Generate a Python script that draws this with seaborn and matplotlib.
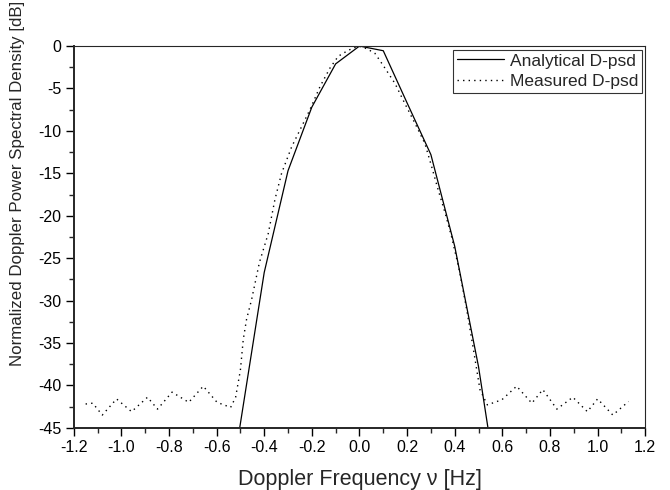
import numpy as np
import pandas as pd
import matplotlib
matplotlib.use("Agg")
import matplotlib.pyplot as plt
from matplotlib.ticker import MultipleLocator, FormatStrFormatter
import seaborn as sns

# analytical D-psd (0.1 Hz grid, clipped at -45 dB by the axis)
freq_analytical = [-0.6, -0.5, -0.4, -0.3, -0.2, -0.1, 0.0, 0.1, 0.2, 0.3, 0.4, 0.5, 0.6]
psd_analytical = [-62.0, -44.5, -26.7, -14.7, -7.2, -2.1, 0.0, -0.55, -6.7, -12.8, -23.6, -37.8, -56.0]

# measured D-psd
freq_measured = [-1.15, -1.12, -1.08, -1.02, -0.957, -0.89, -0.848, -0.787, -0.717, -0.656,
                 -0.598, -0.541, -0.52, -0.50, -0.488, -0.474, -0.453, -0.42, -0.383, -0.355,
                 -0.327, -0.285, -0.243, -0.208, -0.166, -0.124, -0.089, -0.047, -0.005, 0.03,
                 0.065, 0.1, 0.149, 0.191, 0.233, 0.275, 0.303, 0.331, 0.36, 0.387,
                 0.42, 0.45, 0.48, 0.506, 0.537, 0.598, 0.66, 0.724, 0.77, 0.829,
                 0.896, 0.957, 1.0, 1.064, 1.13]
psd_measured = [-42.2, -42.1, -43.5, -41.6, -43.1, -41.4, -42.8, -40.8, -42.0, -40.1,
                -42.0, -42.6, -41.4, -38.2, -34.6, -32.2, -29.9, -25.5, -22.1, -18.1,
                -15.0, -11.9, -9.5, -7.5, -4.8, -2.6, -1.2, -0.5, 0.0, -0.3,
                -0.86, -2.3, -4.4, -6.8, -9.1, -11.5, -14.2, -17.0, -19.7, -22.5,
                -26.5, -31.0, -36.0, -40.5, -42.3, -41.7, -40.1, -42.1, -40.5, -42.8,
                -41.4, -43.1, -41.6, -43.5, -41.9]

sns.set_style("ticks")
plt.rcParams['font.family'] = ['Liberation Sans', 'DejaVu Sans']
plt.rcParams['axes.unicode_minus'] = False

fig = plt.figure(figsize=(6.7, 4.9), dpi=100)
ax = fig.add_axes([0.110, 0.127, 0.853, 0.779])

df_a = pd.DataFrame({"freq": freq_analytical, "psd": psd_analytical})
df_m = pd.DataFrame({"freq": freq_measured, "psd": psd_measured})

sns.lineplot(data=df_a, x="freq", y="psd", ax=ax, color="black", linewidth=0.9,
             sort=False, label="Analytical D-psd")
sns.lineplot(data=df_m, x="freq", y="psd", ax=ax, color="black", linewidth=1.0,
             linestyle=(0, (1, 3)), sort=False, label="Measured D-psd")

ax.set_xlim(-1.2, 1.2)
ax.set_ylim(-45, 0)
ax.xaxis.set_major_locator(MultipleLocator(0.2))
ax.xaxis.set_minor_locator(MultipleLocator(0.1))
ax.xaxis.set_major_formatter(FormatStrFormatter('%.1f'))
ax.yaxis.set_major_locator(MultipleLocator(5))
ax.yaxis.set_minor_locator(MultipleLocator(2.5))

ax.tick_params(which='major', direction='out', length=6, width=1.0, labelsize=11.5, colors='black', pad=3)
ax.tick_params(which='minor', direction='out', length=3.5, width=1.0)
ax.tick_params(top=False, right=False, which='both')

for side in ['left', 'bottom']:
    ax.spines[side].set_linewidth(1.4)
for side in ['top', 'right']:
    ax.spines[side].set_linewidth(0.8)
    ax.spines[side].set_visible(True)

ax.set_xlabel("Doppler Frequency ν [Hz]", fontsize=15.5)
ax.set_ylabel("Normalized Doppler Power Spectral Density [dB]", fontsize=12.2)
ax.xaxis.set_label_coords(0.5, -0.108)
ax.yaxis.set_label_coords(-0.085, 0.64)

leg = ax.legend(loc='upper right', fontsize=12.5, frameon=True, fancybox=False,
                edgecolor='black', handlelength=2.75, borderaxespad=0.2,
                borderpad=0.22, labelspacing=0.3, handletextpad=0.3)
leg.get_frame().set_linewidth(0.8)

fig.savefig("out.png", dpi=100)
